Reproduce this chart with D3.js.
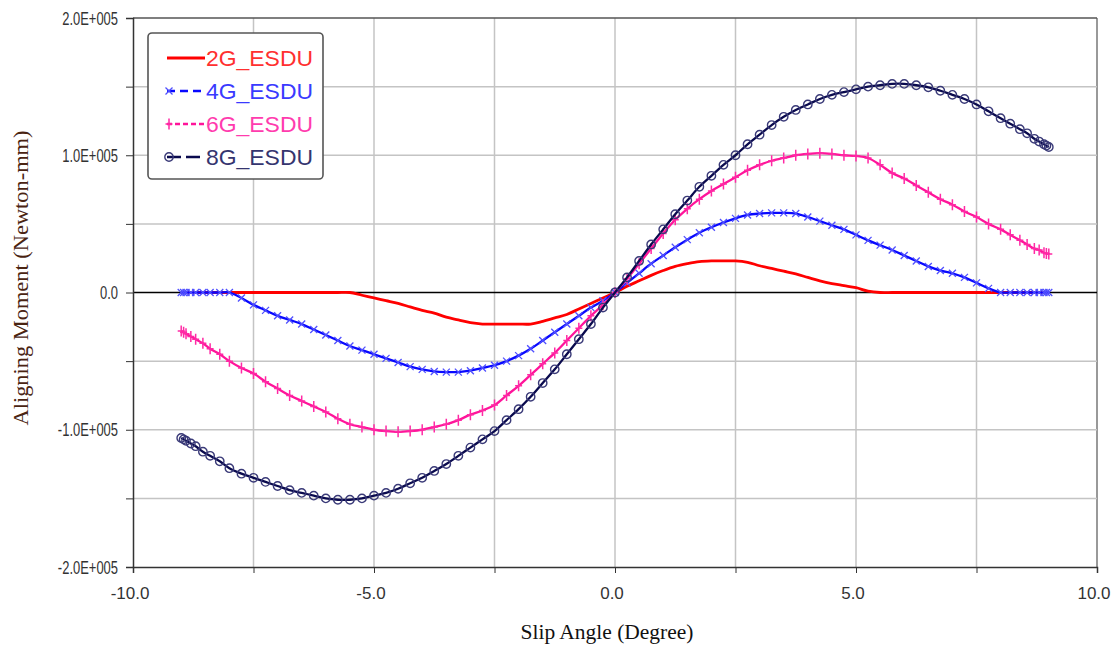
<!DOCTYPE html>
<html>
  <head>
    <script src="https://d3js.org/d3.v7.min.js"></script>
    <style>
      body { margin: 0; background: #fff; }
      text { font-family: "Liberation Sans", Arial, sans-serif; }
    </style>
  </head>
  <body>
    <svg width="1117" height="648"></svg>
  <script>
    // slip angle (degree)
    const slip = [-9, -8.95, -8.9, -8.8, -8.7, -8.55, -8.4, -8.2, -8,
      -7.75, -7.5, -7.25, -7, -6.75, -6.5, -6.25, -6, -5.75, -5.5, -5.25, -5, -4.75, -4.5, -4.25, -4,
      -3.75, -3.5, -3.25, -3, -2.75, -2.5, -2.25, -2, -1.75, -1.5, -1.25, -1, -0.75, -0.5, -0.25,
      0,
      0.25, 0.5, 0.75, 1, 1.25, 1.5, 1.75, 2, 2.25, 2.5, 2.75, 3, 3.25, 3.5, 3.75, 4,
      4.25, 4.5, 4.75, 5, 5.25, 5.5, 5.75, 6, 6.25, 6.5, 6.75, 7, 7.25, 7.5, 7.75,
      8, 8.2, 8.4, 8.55, 8.7, 8.8, 8.9, 8.95, 9];

    // aligning moment, in thousands of Newton-mm
    const g2 = [0, 0, 0, 0, 0, 0, 0, 0, 0,
      0, 0, 0, 0, 0, 0, 0, 0, 0, 0, -2, -4, -6, -8, -10.5, -13,
      -15, -18, -20, -22, -23, -23, -23, -23, -23, -21, -18.5, -16, -12, -8, -4,
      0,
      4.5, 8.5, 12.5, 16, 19, 21, 22.5, 23, 23, 23, 22, 19.5, 17.5, 15.5, 13.5, 11,
      8.5, 6.5, 5, 3.5, 1, 0, 0, 0, 0, 0, 0, 0, 0, 0, 0,
      0, 0, 0, 0, 0, 0, 0, 0, 0];
    const g4 = [0, 0, 0, 0, 0, 0, 0, 0, 0,
      -4, -9, -13, -17, -20, -23, -27, -31, -35, -39, -42, -45, -48, -51, -54, -56,
      -57.5, -58, -58, -57, -55, -53, -50, -46, -41, -35, -29, -23, -17, -11, -6,
      0,
      7, 14, 21, 27, 33, 38.5, 43.5, 47.5, 51, 54, 56.5, 57.5, 58, 58, 57.5, 55,
      52, 49, 46, 42, 38, 34.5, 31, 27, 23, 19, 16, 14, 11, 7, 3,
      0, 0, 0, 0, 0, 0, 0, 0, 0];
    const g6 = [-28, -29, -30, -32, -34, -37, -41, -45, -50,
      -55, -59, -65, -70, -75, -79, -83, -87, -92, -96, -98, -100, -101, -101.5, -101, -100,
      -98, -96, -93, -89, -86, -82, -75, -68, -60, -52, -44, -35, -26, -17, -9,
      0,
      10, 21, 32, 43, 53, 61, 68, 74, 79, 84, 89, 93, 96, 98, 100, 101,
      101.5, 101, 100, 99.5, 98, 93, 87, 83, 78, 73, 68, 64, 59, 55, 50,
      46, 42, 38, 35, 32, 31, 29, 28.5, 28];
    const g8 = [-106, -107, -108, -110, -112, -116, -119, -123, -128,
      -132, -135, -138, -141, -144, -146, -148, -150, -151, -151, -150, -148, -146, -143, -139, -135,
      -130, -125, -119, -113, -107, -101, -93, -85, -76, -66, -56, -45, -34, -23, -11,
      0,
      11, 23, 35, 46, 57, 67, 77, 85, 93, 100, 108, 115, 122, 128, 133, 137,
      141, 144, 146, 148, 150, 151, 152, 152, 151, 149.5, 147, 144, 141, 137, 132,
      127, 123, 119, 116, 112, 110, 108, 107, 106];

    const seriesNames = ['2G_ESDU', '4G_ESDU', '6G_ESDU', '8G_ESDU'];
    const xTicks = [-10, -5, 0, 5, 10];
    const xTickLabels = ['-10.0', '-5.0', '0.0', '5.0', '10.0'];
    const yTicks = [-200, -100, 0, 100, 200];
    const yTickLabels = ['-2.0E+005', '-1.0E+005', '0.0', '1.0E+005', '2.0E+005'];

    const styles = [
      { line: '#ff0000', text: '#ff3030', width: 2.8, mark: null, dash: null },
      { line: '#0808ff', text: '#3a3aff', width: 2.3, mark: 'x', mc: '#5050ff', dash: '8,5' },
      { line: '#ff149a', text: '#ff3cae', width: 2.3, mark: '+', mc: '#ff2aa5', dash: '5,3' },
      { line: '#0a0a4e', text: '#35356f', width: 2.3, mark: 'o', mc: '#3a3a78', dash: '14,5' }
    ];

    const svg = d3.select('svg');
    const pLeft = 133, pRight = 1097, pTop = 18, pBottom = 567;

    const x = d3.scaleLinear().domain([-10, 10]).range([pLeft, pRight]);
    const y = d3.scaleLinear().domain([-200, 200]).range([pBottom, pTop]);

    // grid
    const grid = svg.append('g');
    grid.selectAll('line.v').data(d3.range(-7.5, 10.01, 2.5))
      .enter().append('line')
        .attr('x1', d => x(d)).attr('x2', d => x(d))
        .attr('y1', pTop).attr('y2', pBottom)
        .attr('stroke', d => d === 10 ? '#777' : '#c4c4c4').attr('stroke-width', 1.5);
    grid.selectAll('line.h').data(d3.range(-150, 201, 50))
      .enter().append('line')
        .attr('x1', pLeft).attr('x2', pRight)
        .attr('y1', d => y(d)).attr('y2', d => y(d))
        .attr('stroke', d => d === 0 ? '#000' : (d === 200 ? '#555' : '#c4c4c4'))
        .attr('stroke-width', d => d === 0 ? 1.6 : 1.5);

    // axes
    const xAxis = svg.append('g').attr('transform', `translate(0,${pBottom})`)
      .call(d3.axisBottom(x).tickValues(d3.range(-10, 10.01, 2.5)).tickSize(6).tickFormat(''));
    xAxis.select('.domain').attr('stroke', '#333').attr('stroke-width', 1.5);
    xAxis.selectAll('.tick line').attr('stroke', '#333');
    xAxis.selectAll('text.lab').data(xTicks).enter().append('text')
      .attr('x', d => x(d) - 3).attr('y', 32)
      .attr('text-anchor', 'middle').attr('fill', '#333')
      .style('font-size', '17px')
      .text((d, i) => xTickLabels[i]);

    const yAxis = svg.append('g').attr('transform', `translate(${pLeft},0)`)
      .call(d3.axisLeft(y).tickValues(d3.range(-200, 201, 50)).tickSize(7).tickFormat(''));
    yAxis.select('.domain').attr('stroke', '#333').attr('stroke-width', 1.5);
    yAxis.selectAll('.tick line').attr('stroke', '#333');
    yAxis.selectAll('text.lab').data(yTicks).enter().append('text')
      .attr('transform', d => `translate(-15,${y(d) + 6.5}) scale(0.72,1)`)
      .attr('text-anchor', 'end').attr('fill', '#333')
      .style('font-size', '18px')
      .text((d, i) => yTickLabels[i]);

    // series
    const allSeries = [g2, g4, g6, g8];
    const line = d3.line().x((d, i) => x(slip[i])).y(d => y(d))
      .curve(d3.curveCatmullRom.alpha(0.5));
    const plot = svg.append('g');

    function drawMark(sel, type, color) {
      if (type === 'x') {
        sel.append('path').attr('d', 'M-3.5,-3.5L3.5,3.5M-3.5,3.5L3.5,-3.5')
          .attr('stroke', color).attr('stroke-width', 1.3).attr('fill', 'none');
      } else if (type === '+') {
        sel.append('path').attr('d', 'M0,-5.5L0,5.5M-3.5,0L3.5,0')
          .attr('stroke', color).attr('stroke-width', 1.5).attr('fill', 'none');
      } else if (type === 'o') {
        sel.append('circle').attr('r', 4.2)
          .attr('stroke', color).attr('stroke-width', 1.4).attr('fill', 'none');
      }
    }

    allSeries.forEach((vals, k) => {
      const st = styles[k];
      plot.append('path').datum(vals)
        .attr('d', line)
        .attr('fill', 'none')
        .attr('stroke', st.line)
        .attr('stroke-width', st.width);
      if (st.mark) {
        plot.append('g').selectAll('g').data(vals).enter().append('g')
          .attr('transform', (d, i) => `translate(${x(slip[i])},${y(d)})`)
          .each(function () { drawMark(d3.select(this), st.mark, st.mc); });
      }
    });

    // legend
    const lg = svg.append('g');
    lg.append('rect').attr('x', 148).attr('y', 33).attr('width', 175).attr('height', 146)
      .attr('rx', 4).attr('fill', '#fff').attr('stroke', '#555').attr('stroke-width', 1.6);
    seriesNames.forEach((name, k) => {
      const st = styles[k];
      const cy = 58 + k * 33;
      lg.append('line').attr('x1', 167).attr('x2', 205).attr('y1', cy).attr('y2', cy)
        .attr('stroke', st.line).attr('stroke-width', st.width)
        .attr('stroke-dasharray', st.dash);
      if (st.mark) {
        const m = lg.append('g').attr('transform', `translate(169,${cy})`);
        drawMark(m, st.mark, st.mc);
      }
      lg.append('text').attr('x', 206).attr('y', cy).attr('dy', '0.36em')
        .attr('fill', st.text).style('font-size', '22px')
        .attr('textLength', 107).attr('lengthAdjust', 'spacingAndGlyphs')
        .text(name);
    });

    // axis titles
    svg.append('text').attr('x', 607).attr('y', 639)
      .attr('text-anchor', 'middle').attr('fill', '#111')
      .style('font-family', '"Liberation Serif", "Times New Roman", serif')
      .style('font-size', '20px')
      .attr('textLength', 173).attr('lengthAdjust', 'spacingAndGlyphs')
      .text('Slip Angle (Degree)');
    svg.append('text')
      .attr('transform', 'translate(28,278) rotate(-90)')
      .attr('text-anchor', 'middle').attr('fill', '#4a2412')
      .style('font-family', '"Liberation Serif", "Times New Roman", serif')
      .style('font-size', '20px')
      .attr('textLength', 295).attr('lengthAdjust', 'spacingAndGlyphs')
      .text('Aligning Moment (Newton-mm)');
  </script>
  </body>
</html>
